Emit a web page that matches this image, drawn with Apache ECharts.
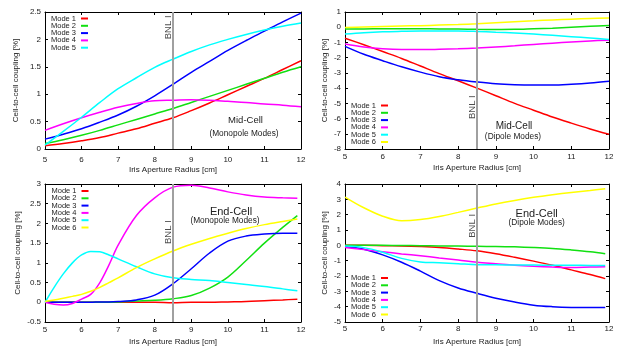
<!DOCTYPE html>
<html>
<head>
<meta charset="utf-8">
<script src="https://cdn.jsdelivr.net/npm/echarts@6/dist/echarts.min.js"></script>
<style>
  html, body { margin: 0; padding: 0; background: #fff; }
  #chart { width: 621px; height: 348px; }
</style>
</head>
<body>
<div id="chart"></div>
<script>
const modeNames = ["Mode 1", "Mode 2", "Mode 3", "Mode 4", "Mode 5", "Mode 6"];
const modeColors = ["#ff0000", "#11e011", "#0000ff", "#ff00ff", "#00ffff", "#ffff00"];
const bnlRadius = 8.5;

// Mid-Cell, monopole modes
const midMonoX = [5, 5.5, 6, 6.5, 7, 7.5, 8, 8.5, 9, 9.5, 10, 10.5, 11, 11.5, 12];
const midMonoMode1 = [0.06, 0.10, 0.15, 0.21, 0.29, 0.37, 0.47, 0.57, 0.70, 0.84, 0.99, 1.14, 1.29, 1.45, 1.61];
const midMonoMode2 = [0.10, 0.17, 0.25, 0.34, 0.44, 0.54, 0.64, 0.74, 0.85, 0.96, 1.07, 1.18, 1.29, 1.40, 1.50];
const midMonoMode3 = [0.18, 0.27, 0.37, 0.49, 0.62, 0.78, 0.97, 1.18, 1.40, 1.60, 1.80, 1.98, 2.15, 2.32, 2.48];
const midMonoMode4 = [0.34, 0.46, 0.57, 0.67, 0.76, 0.83, 0.88, 0.89, 0.90, 0.89, 0.87, 0.85, 0.82, 0.80, 0.77];
const midMonoMode5 = [0.07, 0.32, 0.58, 0.85, 1.10, 1.30, 1.49, 1.64, 1.78, 1.90, 2.00, 2.09, 2.17, 2.24, 2.30];

// Mid-Cell, dipole modes
const midDipX = [5, 5.5, 6, 6.5, 7, 7.5, 8, 8.5, 9, 9.5, 10, 10.5, 11, 11.5, 12];
const midDipMode1 = [-0.72, -1.15, -1.6, -2.05, -2.55, -3.05, -3.52, -4.0, -4.5, -5.0, -5.45, -5.9, -6.3, -6.68, -7.03];
const midDipMode2 = [-0.12, -0.11, -0.10, -0.10, -0.10, -0.11, -0.12, -0.14, -0.15, -0.14, -0.10, -0.06, 0.0, 0.06, 0.12];
const midDipMode3 = [-1.26, -1.78, -2.2, -2.6, -2.95, -3.25, -3.45, -3.6, -3.72, -3.78, -3.8, -3.8, -3.75, -3.67, -3.55];
const midDipMode4 = [-1.1, -1.3, -1.42, -1.47, -1.47, -1.45, -1.42, -1.37, -1.3, -1.22, -1.13, -1.05, -0.97, -0.9, -0.85];
const midDipMode5 = [-0.45, -0.36, -0.3, -0.27, -0.25, -0.25, -0.25, -0.28, -0.33, -0.38, -0.45, -0.53, -0.62, -0.71, -0.8];
const midDipMode6 = [-0.02, 0.02, 0.05, 0.08, 0.1, 0.14, 0.18, 0.23, 0.3, 0.36, 0.42, 0.48, 0.53, 0.57, 0.6];

// End-Cell, monopole modes
const endMonoX = [5, 5.25, 5.5, 5.75, 6, 6.25, 6.5, 6.75, 7, 7.5, 8, 8.5, 9, 9.5, 10, 10.5, 11, 11.5, 11.9];
const endMonoMode1 = [0, 0, 0, 0, 0, 0, 0, 0, 0, 0, 0, -0.01, 0, 0, 0.01, 0.02, 0.04, 0.06, 0.08];
const endMonoMode2 = [0, 0, 0, 0, 0, 0, 0, 0, 0.01, 0.03, 0.05, 0.09, 0.17, 0.36, 0.64, 1.06, 1.5, 1.9, 2.2];
const endMonoMode3 = [0, 0, 0, 0, 0, 0, 0.01, 0.01, 0.02, 0.06, 0.18, 0.47, 0.85, 1.25, 1.55, 1.68, 1.73, 1.75, 1.75];
const endMonoMode4 = [0, -0.05, -0.07, -0.03, 0.08, 0.2, 0.5, 0.95, 1.45, 2.2, 2.65, 2.92, 2.97, 2.9, 2.8, 2.72, 2.67, 2.65, 2.64];
const endMonoMode5 = [0, 0.38, 0.72, 1.0, 1.2, 1.29, 1.28, 1.2, 1.1, 0.9, 0.72, 0.62, 0.58, 0.55, 0.5, 0.45, 0.4, 0.34, 0.29];
const endMonoMode6 = [0.02, 0.06, 0.1, 0.15, 0.2, 0.28, 0.38, 0.5, 0.62, 0.88, 1.1, 1.3, 1.47, 1.62, 1.75, 1.87, 1.97, 2.05, 2.11];

// End-Cell, dipole modes
const endDipX = [5, 5.5, 6, 6.5, 7, 7.5, 8, 8.5, 9, 9.5, 10, 10.5, 11, 11.5, 11.9];
const endDipMode1 = [0, 0, -0.02, -0.04, -0.08, -0.14, -0.24, -0.36, -0.55, -0.78, -1.03, -1.3, -1.6, -1.9, -2.17];
const endDipMode2 = [0, 0, 0, -0.01, -0.02, -0.04, -0.05, -0.06, -0.08, -0.1, -0.14, -0.2, -0.3, -0.42, -0.55];
const endDipMode3 = [-0.07, -0.25, -0.62, -1.1, -1.68, -2.3, -2.78, -3.13, -3.45, -3.7, -3.9, -4.0, -4.05, -4.06, -4.06];
const endDipMode4 = [-0.14, -0.28, -0.42, -0.56, -0.68, -0.82, -0.95, -1.1, -1.2, -1.3, -1.37, -1.42, -1.45, -1.42, -1.4];
const endDipMode5 = [-0.05, -0.15, -0.45, -0.85, -1.08, -1.14, -1.2, -1.26, -1.27, -1.28, -1.29, -1.3, -1.3, -1.31, -1.31];
const endDipMode6 = [3.15, 2.45, 1.9, 1.6, 1.68, 1.88, 2.15, 2.43, 2.7, 2.93, 3.13, 3.3, 3.45, 3.58, 3.69];

const FONT = "'Liberation Sans', Arial, sans-serif";
const INK = "#222";

// layout of the four plots
const panels = [
  {
    x: midMonoX, modes: [midMonoMode1, midMonoMode2, midMonoMode3, midMonoMode4, midMonoMode5],
    grid: { left: 45, top: 12, width: 256, height: 137 },
    yMin: 0, yMax: 2.5, yStep: 0.5, bnlY: 2.22,
    labelMargin: 5.3, nameGap: 12.7, yNameGap: 24,
    legend: { left: 51, top: 14.5 },
    title: ["Mid-Cell", "(Monopole Modes)"], titleSize: 9.5,
    titlePos: [[245.5, 120.7], [244, 133.3]],
  },
  {
    x: midDipX, modes: [midDipMode1, midDipMode2, midDipMode3, midDipMode4, midDipMode5, midDipMode6],
    grid: { left: 345, top: 12, width: 264, height: 137 },
    yMin: -8, yMax: 1, yStep: 1, bnlY: -5.25,
    labelMargin: 2.7, nameGap: 11.7, yNameGap: 14.6,
    legend: { left: 351, top: 101.5 },
    title: ["Mid-Cell", "(Dipole Modes)"], titleSize: 10,
    titlePos: [[514, 126.7], [513, 136.7]],
  },
  {
    x: endMonoX, modes: [endMonoMode1, endMonoMode2, endMonoMode3, endMonoMode4, endMonoMode5, endMonoMode6],
    grid: { left: 45, top: 184, width: 256, height: 138 },
    yMin: -0.5, yMax: 3, yStep: 0.5, bnlY: 1.78,
    labelMargin: 2.3, nameGap: 14.7, yNameGap: 22,
    legend: { left: 51.5, top: 187 },
    title: ["End-Cell", "(Monopole Modes)"], titleSize: 11,
    titlePos: [[231, 212.3], [225, 220.9]],
  },
  {
    x: endDipX, modes: [endDipMode1, endDipMode2, endDipMode3, endDipMode4, endDipMode5, endDipMode6],
    grid: { left: 345, top: 184, width: 264, height: 138 },
    yMin: -5, yMax: 4, yStep: 1, bnlY: 1.27,
    labelMargin: 2, nameGap: 14.7, yNameGap: 14.3,
    legend: { left: 351, top: 274 },
    title: ["End-Cell", "(Dipole Modes)"], titleSize: 11,
    titlePos: [[536.7, 214.3], [536.7, 222.9]],
  },
];

const grids = [], xAxes = [], yAxes = [], legends = [], series = [], texts = [];

panels.forEach((p, i) => {
  grids.push(Object.assign({ containLabel: false }, p.grid));

  const tick = { show: true, inside: true, length: 3, lineStyle: { color: "#000" } };
  const line = { show: true, onZero: false, lineStyle: { color: "#000", width: 1 } };

  xAxes.push({
    gridIndex: i, type: "value", min: 5, max: 12, interval: 1, position: "bottom",
    axisLine: line, axisTick: tick, splitLine: { show: false },
    axisLabel: { fontSize: 8, lineHeight: 10, color: INK, fontFamily: FONT, margin: p.labelMargin },
    name: "Iris Aperture Radius [cm]", nameLocation: "middle", nameGap: p.nameGap,
    nameTextStyle: { fontSize: 8, lineHeight: 10, color: INK, fontFamily: FONT },
  });
  xAxes.push({
    gridIndex: i, type: "value", min: 5, max: 12, interval: 1, position: "top",
    axisLine: line, axisTick: tick, axisLabel: { show: false }, splitLine: { show: false },
  });
  yAxes.push({
    gridIndex: i, type: "value", min: p.yMin, max: p.yMax, interval: p.yStep, position: "left",
    axisLine: line, axisTick: tick, splitLine: { show: false },
    axisLabel: { fontSize: 8, color: INK, fontFamily: FONT, margin: 4 },
    name: "Cell-to-cell coupling [%]", nameLocation: "middle", nameGap: p.yNameGap,
    nameTextStyle: { fontSize: 8, lineHeight: 10, color: INK, fontFamily: FONT },
  });
  yAxes.push({
    gridIndex: i, type: "value", min: p.yMin, max: p.yMax, interval: p.yStep, position: "right",
    axisLine: line, axisTick: tick, axisLabel: { show: false }, splitLine: { show: false },
  });

  const names = modeNames.slice(0, p.modes.length);
  p.modes.forEach((ys, k) => {
    series.push({
      type: "line", name: names[k],
      xAxisIndex: 2 * i, yAxisIndex: 2 * i,
      data: p.x.map((xv, j) => [xv, ys[j]]),
      showSymbol: false, smooth: 0.35,
      lineStyle: { width: 1.5, color: modeColors[k] },
      itemStyle: { color: modeColors[k] },
      silent: true,
    });
  });

  // BNL I reference radius
  series.push({
    type: "line", name: "BNL I line",
    xAxisIndex: 2 * i, yAxisIndex: 2 * i,
    data: [[bnlRadius, p.yMin], [bnlRadius, p.yMax]],
    showSymbol: false, silent: true,
    lineStyle: { color: "#a0a0a0", width: 2 },
  });
  series.push({
    type: "scatter", name: "BNL I label",
    xAxisIndex: 2 * i, yAxisIndex: 2 * i,
    data: [[bnlRadius, p.bnlY]], symbolSize: 0, silent: true,
    label: {
      show: true, formatter: "BNL I", position: "inside", rotate: 90,
      align: "center", verticalAlign: "bottom",
      fontSize: 9.5, color: INK, fontFamily: FONT,
    },
  });

  legends.push({
    data: names, left: p.legend.left, top: p.legend.top,
    orient: "vertical", align: "right", icon: "rect",
    itemWidth: 7, itemHeight: 2, itemGap: -0.7, padding: 0,
    selectedMode: false,
    textStyle: { fontSize: 7.5, lineHeight: 7.5, color: INK, fontFamily: FONT },
  });

  p.title.forEach((t, k) => {
    texts.push({
      type: "text", x: p.titlePos[k][0], y: p.titlePos[k][1], silent: true,
      style: {
        text: t, textAlign: "center", textVerticalAlign: "middle",
        fontSize: k === 0 ? p.titleSize : 8.3, fill: INK, fontFamily: FONT,
      },
    });
  });
});

const chart = echarts.init(document.getElementById("chart"));
chart.setOption({
  animation: false,
  backgroundColor: "#fff",
  grid: grids,
  xAxis: xAxes,
  yAxis: yAxes,
  legend: legends,
  series: series,
  graphic: texts,
});
</script>
</body>
</html>
